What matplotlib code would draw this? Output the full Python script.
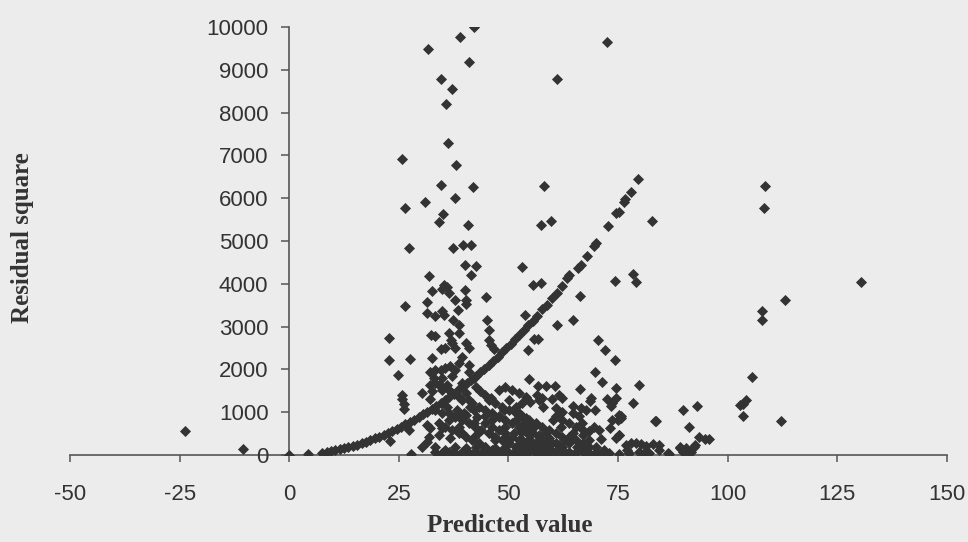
import matplotlib
matplotlib.use("Agg")
import matplotlib.pyplot as plt

plt.rcParams["axes.unicode_minus"] = False

# Points lying on the y = x^2 band (actual value 0)
curve_x = [-23.7, -10.5, 0, 4.3, 7.5, 8.5, 9.5, 10.5, 11.5, 12.5, 13.5, 14.5, 15.5, 16.5,
           17.5, 18.5, 19.5, 20.5, 21.5, 22.5, 23.5, 24.5, 25.5, 26.5, 27.5, 28.5, 29.5,
           30.5, 31.5, 32.5, 33.5, 34.5, 35.5, 36.5, 37.5, 38.5, 39.5, 40.5, 41.5, 42.5,
           43.5, 44.5, 45.5, 46.5, 47.5, 48.5, 49.5, 50.5, 51.5, 52.5, 53.5, 54.5, 55.5,
           56.5, 57.7, 58.8, 60.0, 61.1, 62.3, 63.4, 63.8, 65.9, 66.5, 68.0, 69.5, 70.0,
           72.6, 74.6, 75.2, 76.4, 76.6, 77.9, 79.6]
curve_y = [560, 140, 0, 20, 57, 74, 92, 112, 135, 159, 186, 214, 245, 278,
           312, 349, 388, 429, 471, 516, 563, 612, 663, 716, 771, 828, 888,
           949, 1012, 1077, 1145, 1214, 1286, 1359, 1434, 1512, 1591, 1673, 1757, 1842,
           1930, 2020, 2112, 2205, 2301, 2399, 2499, 2601, 2705, 2811, 2920, 3030, 3142,
           3256, 3410, 3513, 3670, 3787, 3942, 4138, 4216, 4372, 4450, 4660, 4878, 4957,
           5347, 5660, 5670, 5910, 5972, 6144, 6440]

# Remaining points
other_x = [42.1, 39.0, 31.6, 40.9, 72.4, 34.6, 37.1, 61.1, 35.7, 36.1, 25.7, 38.0, 34.7, 41.8,
           58.2, 31.0, 37.7, 26.5, 35.1, 34.1, 40.8, 57.5, 59.8, 27.4, 37.3, 39.6, 41.5, 82.7,
           108.5, 108.2, 78.3, 79.1, 130.5, 113.1, 107.9, 107.9, 105.6, 104.2, 103.4, 102.7,
           103.4, 112.1,
           79.8, 78.3, 75.6, 75.2, 83.6, 89.9, 92.9, 91.1, 93.5, 94.7, 95.7, 92.6, 92.2,
           76.8, 77.9, 79.0, 80.2, 81.3, 82.9, 84.4, 77.1, 79.8, 82.1, 84.4, 86.3, 89.0, 89.7,
           91.2, 72.9, 75.2, 77.5, 80.9, 86.6, 89.0, 90.5, 91.6,
           53.7, 61.0, 64.6, 55.8, 56.8, 54.5, 70.5, 72.0, 74.3, 69.7, 71.3, 74.6, 54.7, 56.8,
           58.5, 60.6, 66.2, 52.4, 56.6, 57.6, 56.9, 61.5, 60.0, 62.3, 68.9, 68.6, 72.4, 74.5,
           73.7, 73.3, 55.0, 57.9, 64.6, 66.5, 67.6, 69.7, 62.3, 61.5, 66.1, 75.2, 75.6, 75.0,
           60.1, 66.8, 73.5, 83.5, 61.9, 69.5, 70.7, 68.4, 73.1, 64.6, 66.9, 75.1, 74.5, 68.4,
           71.0, 69.9, 63.8, 65.7, 66.5,
           52.4, 53.1, 53.9, 53.5, 54.6, 55.8, 52.8, 54.2, 55.4, 56.9, 58.5, 59.2, 53.1, 55.0,
           56.6, 58.1, 60.0, 61.5, 52.8, 54.6, 56.9, 59.2, 62.3, 60.7, 53.9, 56.2, 58.5, 63.0,
           71.8, 63.0, 65.0, 67.5, 70.0,
           53.1, 55.6, 57.5, 66.3, 74.2,
           40.0, 42.6, 41.5, 31.8, 35.2, 36.0, 34.8, 36.4, 32.5, 40.0, 40.3, 40.3, 37.9, 44.9,
           31.4, 26.3,
           22.8, 22.8, 27.6, 24.9, 25.7, 25.7, 26.1, 26.1, 30.3, 32.2, 22.9, 27.2, 30.3, 27.8,
           31.4, 32.2, 31.4,
           31.4, 33.3, 34.8, 35.2, 38.5, 37.3, 38.6, 45.0, 45.5, 32.4, 33.3, 36.4, 38.6, 37.0,
           37.1, 35.6, 34.5, 37.9, 40.2, 40.9, 45.5, 46.1, 46.6, 32.5, 39.4, 38.6, 40.9,
           32.2, 33.3, 34.5, 35.6, 36.7, 37.9, 32.9, 34.8, 37.1, 32.2, 34.1, 36.0, 39.4, 40.9,
           42.1, 32.5, 34.8, 37.1,
           42.5, 43.6, 44.7, 45.9, 47.8, 49.3, 50.8, 53.9, 48.9, 50.1, 51.6, 53.1, 40.9, 42.1,
           38.6, 40.2, 36.4, 34.8, 38.6, 42.1, 44.7, 46.3, 47.8, 49.3, 51.6, 31.8, 34.1, 36.7,
           39.4, 42.1, 43.2, 45.5, 47.0, 49.3, 51.2, 53.1, 54.7, 33.3, 35.6, 37.9, 40.2, 42.5,
           44.7, 47.0, 49.3, 51.6, 53.9, 34.8, 37.1, 39.4, 41.7, 44.0, 46.3, 48.6, 50.8, 53.1,
           33.3, 34.8, 36.4, 38.6, 40.2, 39.4, 41.7, 43.2, 44.7, 46.3, 47.8, 49.3, 50.8, 52.4,
           53.9, 55.4, 56.9, 58.5, 59.2, 45.5, 47.0, 48.6, 50.1, 51.6, 53.1, 54.7, 56.2, 57.7,
           59.2, 60.8, 62.3, 36.4, 37.9, 39.4, 40.9, 42.4, 43.8, 45.5, 47.0, 48.6, 50.1, 51.6,
           53.1, 34.1, 35.6, 37.1, 38.6, 40.2, 41.7, 43.2, 44.7, 46.3, 47.8, 33.3, 34.8, 36.0,
           38.3, 39.8, 41.3, 42.8, 44.7, 46.3, 47.8, 49.3, 50.8, 52.4, 53.9, 55.4, 56.9, 58.5,
           33.3, 34.8, 36.4, 37.9, 39.4, 40.9, 42.4, 43.8, 45.5, 47.0, 48.6, 50.1, 51.6, 53.1,
           54.7, 56.2, 57.7, 59.2, 60.8, 62.3, 63.8, 65.3, 66.9, 68.4, 69.9, 71.4,
           60.8, 62.3, 63.8, 65.3, 66.9, 63.8, 65.3, 66.9, 68.4, 62.3, 60.8, 64.6, 60.8]
other_y = [9990, 9760, 9485, 9190, 9640, 8775, 8550, 8775, 8205, 7300, 6925, 6775, 6300, 6260,
           6285, 5920, 6005, 5760, 5620, 5440, 5385, 5385, 5465, 4840, 4825, 4895, 4895, 5465,
           6285, 5760, 4240, 4045, 4045, 3630, 3370, 3145, 1825, 1290, 1195, 1170,
           920, 795,
           1640, 1210, 920, 470, 795, 1055, 1155, 650, 430, 380, 380, 235, 180,
           235, 275, 290, 260, 210, 260, 235, 115, 80, 55, 115, 40, 155, 80,
           40, 40, 25, 40, 55, 25, 195, 155, 80,
           3280, 3030, 3145, 2710, 2710, 2445, 2680, 2445, 2210, 1945, 1700, 1570, 1775, 1615,
           1615, 1615, 1540, 1445, 1405, 1330, 1290, 1405, 1310, 1330, 1330, 1270, 1310, 1340,
           1210, 1150, 1235, 1115, 1150, 1095, 1055, 1055, 1015, 935, 900, 935, 860, 820,
           820, 755, 820, 805, 650, 665, 585, 570, 625, 510, 470, 470, 390, 350,
           370, 195, 275, 195, 155,
           975, 900, 860, 745, 740, 665, 545, 510, 545, 470, 510, 390, 350, 350,
           310, 275, 275, 235, 195, 155, 155, 155, 115, 80, 80, 55, 55, 350,
           115, 25, 25, 40, 25,
           4395, 3980, 4020, 3725, 4060,
           4440, 4410, 4215, 4190, 3980, 3925, 3880, 3785, 3825, 3850, 3615, 3535, 3630, 3690,
           3575, 3490,
           2730, 2210, 2240, 1860, 1405, 1305, 1195, 1070, 1460, 1305, 335, 585, 195, 25,
           700, 625, 310,
           3320, 3255, 3355, 3280, 3395, 3160, 3045, 3160, 2930, 2810, 2785, 2850, 2850, 2695,
           2615, 2500, 2475, 2500, 2615, 2500, 2695, 2575, 2475, 2265, 2300, 2150, 2110,
           1950, 1990, 1975, 2030, 2070, 1990, 1795, 1795, 1835, 1640, 1640, 1640, 1680, 1950,
           1795, 1485, 1520, 1445,
           1600, 1485, 1405, 1325, 1520, 1600, 1520, 1365, 1055, 1290, 1130, 1210, 1290, 1055,
           900, 935, 820, 625, 665, 740, 900, 820, 900, 665, 820, 430, 470, 390,
           510, 430, 545, 510, 350, 430, 510, 585, 665, 195, 115, 195, 155, 195,
           195, 155, 195, 195, 275, 25, 25, 25, 25, 25, 25, 25, 25, 25,
           1678, 1600, 1522, 1366, 1444, 1288, 1210, 1132, 1054, 976, 898, 820, 741, 663,
           586, 508, 429, 351, 273, 1288, 1210, 1132, 1054, 976, 898, 820, 741, 663,
           586, 508, 429, 976, 898, 820, 741, 663, 586, 508, 429, 351, 273, 195,
           117, 741, 663, 586, 508, 429, 351, 273, 195, 117, 78, 1054, 976, 1132,
           1054, 976, 1132, 898, 741, 663, 586, 508, 429, 351, 273, 195, 117, 78,
           78, 40, 78, 40, 78, 40, 78, 40, 78, 40, 78, 40, 78, 40,
           78, 40, 78, 40, 78, 40, 78, 40, 78, 40, 78, 40,
           900, 820, 741, 663, 586, 430, 351, 273, 195, 195, 273, 980, 1100]

x_ticks = [-50, -25, 0, 25, 50, 75, 100, 125, 150]
y_ticks = [0, 1000, 2000, 3000, 4000, 5000, 6000, 7000, 8000, 9000, 10000]
x_label = "Predicted value"
y_label = "Residual square"

bg = "#ececec"
fig = plt.figure(figsize=(9.68, 5.42), dpi=100, facecolor=bg)
ax = fig.add_axes([0.0723, 0.1605, 0.906, 0.7897])
ax.set_facecolor("none")

mk = dict(marker="D", s=32, c="#333333", linewidths=0, zorder=3)
ax.scatter(curve_x, curve_y, **mk)
ax.scatter(other_x, other_y, **mk)

ax.set_xlim(-50, 150)
ax.set_ylim(0, 10000)
ax.set_xticks(x_ticks)
ax.set_yticks(y_ticks)

ax.spines["top"].set_visible(False)
ax.spines["right"].set_visible(False)
ax.spines["left"].set_position(("data", 0))
for s in ("left", "bottom"):
    ax.spines[s].set_color("#555555")
    ax.spines[s].set_linewidth(1.2)
    ax.spines[s].set_zorder(1)

ax.tick_params(axis="both", direction="out", color="#555555", width=1.1,
               labelcolor="#333333")
ax.tick_params(axis="y", length=6, pad=9)
ax.tick_params(axis="x", length=5, pad=16)
for lab in ax.get_xticklabels() + ax.get_yticklabels():
    lab.set_fontfamily(["Liberation Sans", "DejaVu Sans"])
    lab.set_fontsize(16)

lab_font = dict(family=["Liberation Serif", "DejaVu Serif"], size=18,
                weight="bold", color="#333333")
fig.text(0.023, 0.561, y_label, rotation=90, ha="center", va="center", **lab_font)
fig.text(0.527, 0.030, x_label, ha="center", va="center", **lab_font)

fig.savefig("out.png", dpi=100, facecolor=bg)
